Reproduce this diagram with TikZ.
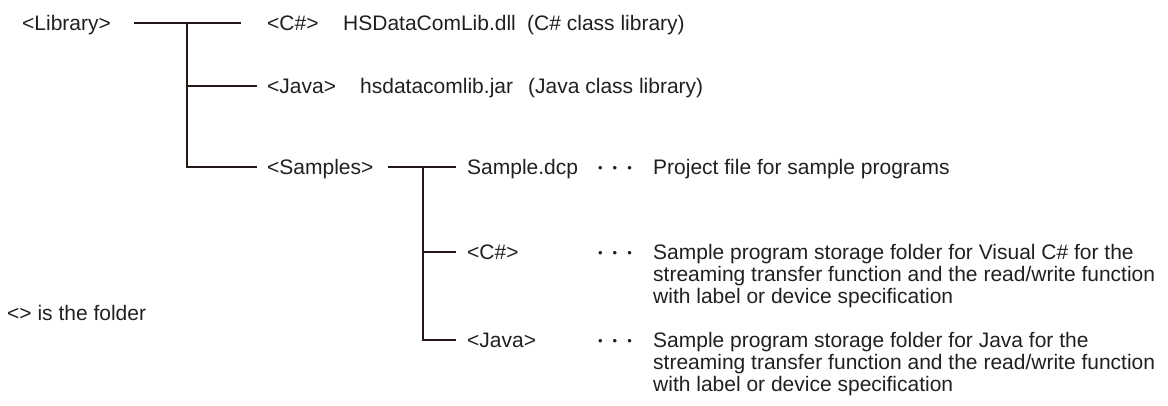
\documentclass[tikz,border=0pt]{standalone}
\usepackage{fontspec}
\setmainfont{Liberation Sans}
\definecolor{ink}{HTML}{231F20}
\definecolor{linec}{HTML}{231815}
\begin{document}
\begin{tikzpicture}[x=1pt,y=-1pt,
  lbl/.style={anchor=base west,inner sep=0pt,text=ink,font=\fontsize{21}{22}\selectfont},
  desc/.style={lbl,align=left},
  tree/.style={draw=linec,line width=2.8pt,line join=miter},
  dotsep/.style={anchor=base,inner sep=0pt,text=ink,font=\fontsize{13}{13}\selectfont}]
\useasboundingbox (0,0) rectangle (1168,405);
% row levels
\coordinate (y1) at (0,23);
\coordinate (y2) at (0,86);
\coordinate (y3) at (0,167);
\coordinate (y4) at (0,252);
\coordinate (y5) at (0,340);
% labels
\node[lbl] (lib) at (22,30) {<Library>};
\node[lbl] (cs1) at (267,30) {<C\#>};
\node[lbl] (dll) at (343,30) {HSDataComLib.dll};
\node[lbl] (dllc) at (527,30) {(C\# class library)};
\node[lbl] (jv1) at (267,93) {<Java>};
\node[lbl] (jar) at (360,93) {hsdatacomlib.jar};
\node[lbl] (jarc) at (528,93) {(Java class library)};
\node[lbl] (smp) at (267,174) {<Samples>};
\node[lbl] (dcp) at (467,174) {Sample.dcp};
\node[dotsep] (d1) at (615,172) {•\kern10pt•\kern10pt•};
\node[lbl] (dcpd) at (653,174) {Project file for sample programs};
\node[lbl] (cs2) at (467,259) {<C\#>};
\node[dotsep] (d2) at (615,257) {•\kern10pt•\kern10pt•};
% multi-line nodes: base is the baseline of the last line (first line + 2 x 22)
\node[desc] (cs2d) at (653,303) {Sample program storage folder for Visual C\# for the\\streaming transfer function and the read/write function\\with label or device specification};
\node[lbl] (jv2) at (467,347) {<Java>};
\node[dotsep] (d3) at (615,345) {•\kern10pt•\kern10pt•};
\node[desc] (jv2d) at (653,391) {Sample program storage folder for Java for the\\streaming transfer function and the read/write function\\with label or device specification};
\node[lbl] (note) at (7,320) {<> is the folder};
% tree
\coordinate (t1) at (187,23);
\coordinate (t2) at (423,167);
\draw[tree] ([xshift=23pt]lib.east |- y1) -- ([xshift=-26pt]cs1.west |- y1);
\draw[tree] (t1) -- (t1 |- y3) -- ([xshift=-10pt]smp.west |- y3);
\draw[tree] (t1 |- y2) -- ([xshift=-10pt]jv1.west |- y2);
\draw[tree] ([xshift=14pt]smp.east |- y3) -- ([xshift=-11pt]dcp.west |- y3);
\draw[tree] (t2) -- (t2 |- y5) -- ([xshift=-11pt]jv2.west |- y5);
\draw[tree] (t2 |- y4) -- ([xshift=-11pt]cs2.west |- y4);
\end{tikzpicture}
\end{document}
